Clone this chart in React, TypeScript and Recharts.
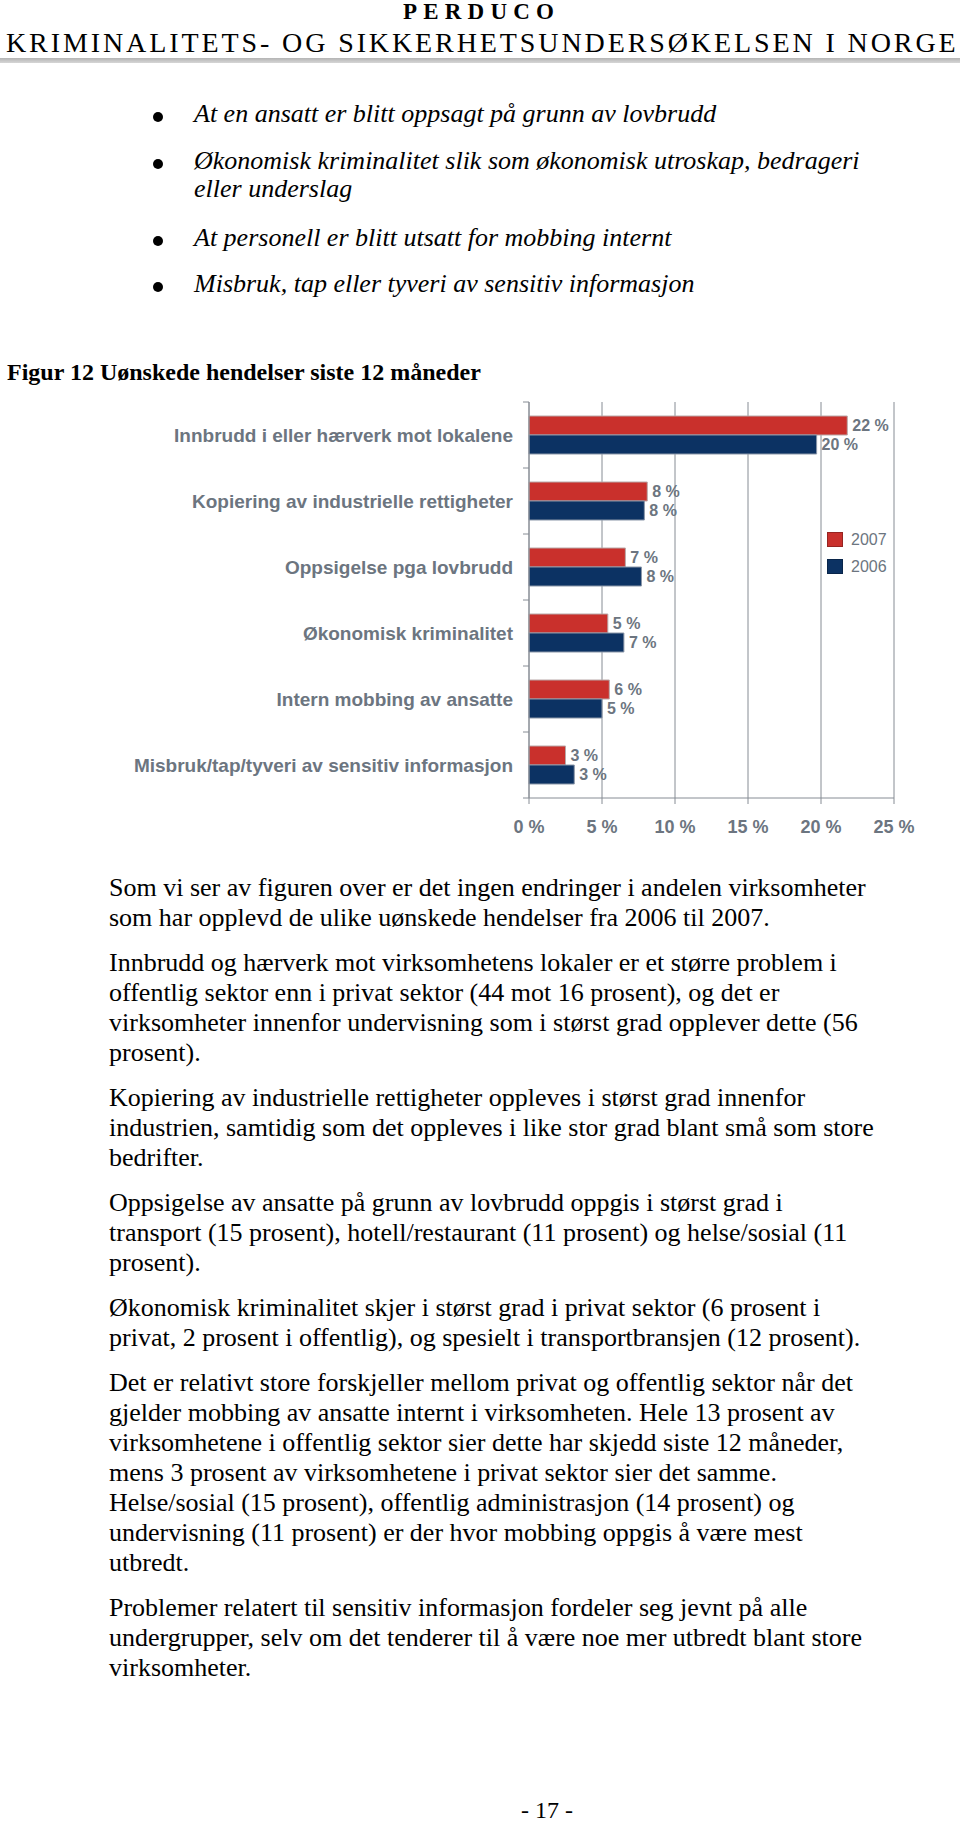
import React from "react";
import {
  BarChart,
  Bar,
  XAxis,
  YAxis,
  CartesianGrid,
  LabelList,
  Legend,
} from "recharts";

const categories = [
  "Innbrudd i eller hærverk mot lokalene",
  "Kopiering av industrielle rettigheter",
  "Oppsigelse pga lovbrudd",
  "Økonomisk kriminalitet",
  "Intern mobbing av ansatte",
  "Misbruk/tap/tyveri av sensitiv informasjon",
];
const values2007 = [21.8, 8.1, 6.6, 5.4, 5.5, 2.5];
const values2006 = [19.7, 7.9, 7.7, 6.5, 5.0, 3.1];
const seriesNames = ["2007", "2006"];
const xTicks = [0, 5, 10, 15, 20, 25];

const RED = "#c9302c";
const BLUE = "#0c3263";
const GRAY_TEXT = "#6c7580";
const GRID = "#868c94";
const SANS = "'Liberation Sans', Arial, sans-serif";
const SERIF = "'Liberation Serif', 'Times New Roman', serif";

const bullets = [
  ["At en ansatt er blitt oppsagt på grunn av lovbrudd"],
  ["Økonomisk kriminalitet slik som økonomisk utroskap, bedrageri", "eller underslag"],
  ["At personell er blitt utsatt for mobbing internt"],
  ["Misbruk, tap eller tyveri av sensitiv informasjon"],
];
const bulletBaselines = [[123], [170, 198], [247], [293]];

const paragraphs = [
  [
    "Som vi ser av figuren over er det ingen endringer i andelen virksomheter",
    "som har opplevd de ulike uønskede hendelser fra 2006 til 2007.",
  ],
  [
    "Innbrudd og hærverk mot virksomhetens lokaler er et større problem i",
    "offentlig sektor enn i privat sektor (44 mot 16 prosent), og det er",
    "virksomheter innenfor undervisning som i størst grad opplever dette (56",
    "prosent).",
  ],
  [
    "Kopiering av industrielle rettigheter oppleves i størst grad innenfor",
    "industrien, samtidig som det oppleves i like stor grad blant små som store",
    "bedrifter.",
  ],
  [
    "Oppsigelse av ansatte på grunn av lovbrudd oppgis i størst grad i",
    "transport (15 prosent), hotell/restaurant (11 prosent) og helse/sosial (11",
    "prosent).",
  ],
  [
    "Økonomisk kriminalitet skjer i størst grad i privat sektor (6 prosent i",
    "privat, 2 prosent i offentlig), og spesielt i transportbransjen (12 prosent).",
  ],
  [
    "Det er relativt store forskjeller mellom privat og offentlig sektor når det",
    "gjelder mobbing av ansatte internt i virksomheten. Hele 13 prosent av",
    "virksomhetene i offentlig sektor sier dette har skjedd siste 12 måneder,",
    "mens 3 prosent av virksomhetene i privat sektor sier det samme.",
    "Helse/sosial (15 prosent), offentlig administrasjon (14 prosent) og",
    "undervisning (11 prosent) er der hvor mobbing oppgis å være mest",
    "utbredt.",
  ],
  [
    "Problemer relatert til sensitiv informasjon fordeler seg jevnt på alle",
    "undergrupper, selv om det tenderer til å være noe mer utbredt blant store",
    "virksomheter.",
  ],
];

const data = categories.map((name, i) => ({
  name,
  v2007: values2007[i],
  v2006: values2006[i],
}));

function TextLine({ x, base, size, children, style }: any) {
  return (
    <div
      style={{
        position: "absolute",
        left: x,
        top: base - size * 0.8375,
        fontSize: size,
        lineHeight: `${size}px`,
        whiteSpace: "nowrap",
        fontFamily: SERIF,
        color: "#000",
        ...style,
      }}
    >
      {children}
    </div>
  );
}

const Y_AXIS_W = 529;

function CategoryTick(props: any) {
  const { x, y, payload, index } = props;
  const half = payload && payload.offset ? payload.offset : 33;
  const ax = Y_AXIS_W;
  return (
    <g>
      <line x1={ax - 6} x2={ax} y1={y - half} y2={y - half} stroke={GRID} />
      {index === categories.length - 1 && (
        <line x1={ax - 6} x2={ax} y1={y + half} y2={y + half} stroke={GRID} />
      )}
      <text
        x={x}
        y={y}
        dy="0.36em"
        textAnchor="end"
        fill={GRAY_TEXT}
        fontFamily={SANS}
        fontWeight="bold"
        fontSize={19}
      >
        {payload.value}
      </text>
    </g>
  );
}

function LegendBox({ payload }: any) {
  const items = [...(payload || [])].sort(
    (a: any, b: any) => seriesNames.indexOf(a.value) - seriesNames.indexOf(b.value)
  );
  return (
    <div style={{ fontFamily: SANS, fontSize: 16, color: GRAY_TEXT }}>
      {items.map((p: any) => (
        <div key={p.value} style={{ display: "flex", alignItems: "center", height: 27 }}>
          <span
            style={{
              display: "inline-block",
              width: 14,
              height: 13,
              background: p.color,
              border: "1px solid rgba(0,0,0,0.25)",
              marginRight: 8,
            }}
          />
          <span>{p.value}</span>
        </div>
      ))}
    </div>
  );
}

function Chart() {
  return (
    <BarChart
      width={960}
      height={460}
      data={data}
      layout="vertical"
      margin={{ top: 12, right: 66, bottom: 12, left: 0 }}
      barGap={0}
    >
      <CartesianGrid horizontal={false} stroke={GRID} />
      <XAxis
        type="number"
        domain={[0, 25]}
        ticks={xTicks}
        tickFormatter={(v: number) => `${v} %`}
        tickSize={6}
        tickMargin={16}
        height={40}
        axisLine={{ stroke: GRID }}
        tickLine={{ stroke: GRID }}
        tick={{ fill: GRAY_TEXT, fontSize: 18, fontWeight: "bold", fontFamily: SANS }}
      />
      <XAxis
        xAxisId="top"
        orientation="top"
        type="number"
        domain={[0, 25]}
        height={0}
        tick={false}
        tickLine={false}
        axisLine={{ stroke: GRID }}
      />
      <YAxis
        type="category"
        dataKey="name"
        width={Y_AXIS_W}
        tickSize={0}
        tickMargin={16}
        tickLine={false}
        axisLine={{ stroke: GRID }}
        tick={<CategoryTick />}
        interval={0}
      />
      <Legend
        layout="vertical"
        align="center"
        verticalAlign="middle"
        wrapperStyle={{ left: 827, top: 136, width: 90, height: 60 }}
        content={<LegendBox />}
      />
      <Bar
        dataKey="v2007"
        name={seriesNames[0]}
        fill={RED}
        stroke="#b8a8a8"
        strokeWidth={1}
        barSize={19}
        isAnimationActive={false}
      >
        <LabelList
          dataKey="v2007"
          position="right"
          offset={5}
          formatter={(v: number) => `${Math.round(v)} %`}
          fill={GRAY_TEXT}
          fontSize={16}
          fontWeight="bold"
          fontFamily={SANS}
        />
      </Bar>
      <Bar
        dataKey="v2006"
        name={seriesNames[1]}
        fill={BLUE}
        stroke="#8a96a8"
        strokeWidth={1}
        barSize={19}
        isAnimationActive={false}
      >
        <LabelList
          dataKey="v2006"
          position="right"
          offset={5}
          formatter={(v: number) => `${Math.round(v)} %`}
          fill={GRAY_TEXT}
          fontSize={16}
          fontWeight="bold"
          fontFamily={SANS}
        />
      </Bar>
    </BarChart>
  );
}

export default function App() {
  const bodyLines: { text: string; base: number }[] = [];
  let base = 897;
  paragraphs.forEach((p, pi) => {
    if (pi > 0) base += 15;
    p.forEach((line) => {
      bodyLines.push({ text: line, base });
      base += 30;
    });
  });

  return (
    <div
      style={{
        position: "absolute",
        left: 0,
        top: 0,
        width: 960,
        height: 1824,
        background: "#fff",
        overflow: "hidden",
      }}
    >
      <TextLine x={403} base={19.5} size={23} style={{ fontWeight: "bold", letterSpacing: 6.2 }}>
        PERDUCO
      </TextLine>
      <TextLine x={6} base={52.5} size={28} style={{ letterSpacing: 2.9 }}>
        KRIMINALITETS- OG SIKKERHETSUNDERSØKELSEN I NORGE
      </TextLine>
      <div
        style={{
          position: "absolute",
          left: 0,
          top: 58,
          width: 960,
          height: 5,
          background: "linear-gradient(#b4b4b4, #d6d6d6)",
        }}
      />

      {bullets.map((b, bi) => (
        <React.Fragment key={bi}>
          <div
            style={{
              position: "absolute",
              left: 153,
              top: bulletBaselines[bi][0] - 11,
              width: 10,
              height: 10,
              borderRadius: "50%",
              background: "#000",
            }}
          />
          {b.map((line, li) => (
            <TextLine
              key={li}
              x={194}
              base={bulletBaselines[bi][li]}
              size={26}
              style={{ fontStyle: "italic" }}
            >
              {line}
            </TextLine>
          ))}
        </React.Fragment>
      ))}

      <TextLine x={7} base={380} size={24} style={{ fontWeight: "bold" }}>
        Figur 12 Uønskede hendelser siste 12 måneder
      </TextLine>

      <div style={{ position: "absolute", left: 0, top: 390, width: 960, height: 460 }}>
        <Chart />
      </div>

      {bodyLines.map((l, i) => (
        <TextLine key={i} x={109} base={l.base} size={26}>
          {l.text}
        </TextLine>
      ))}

      <TextLine x={521} base={1818} size={24}>
        - 17 -
      </TextLine>
    </div>
  );
}
